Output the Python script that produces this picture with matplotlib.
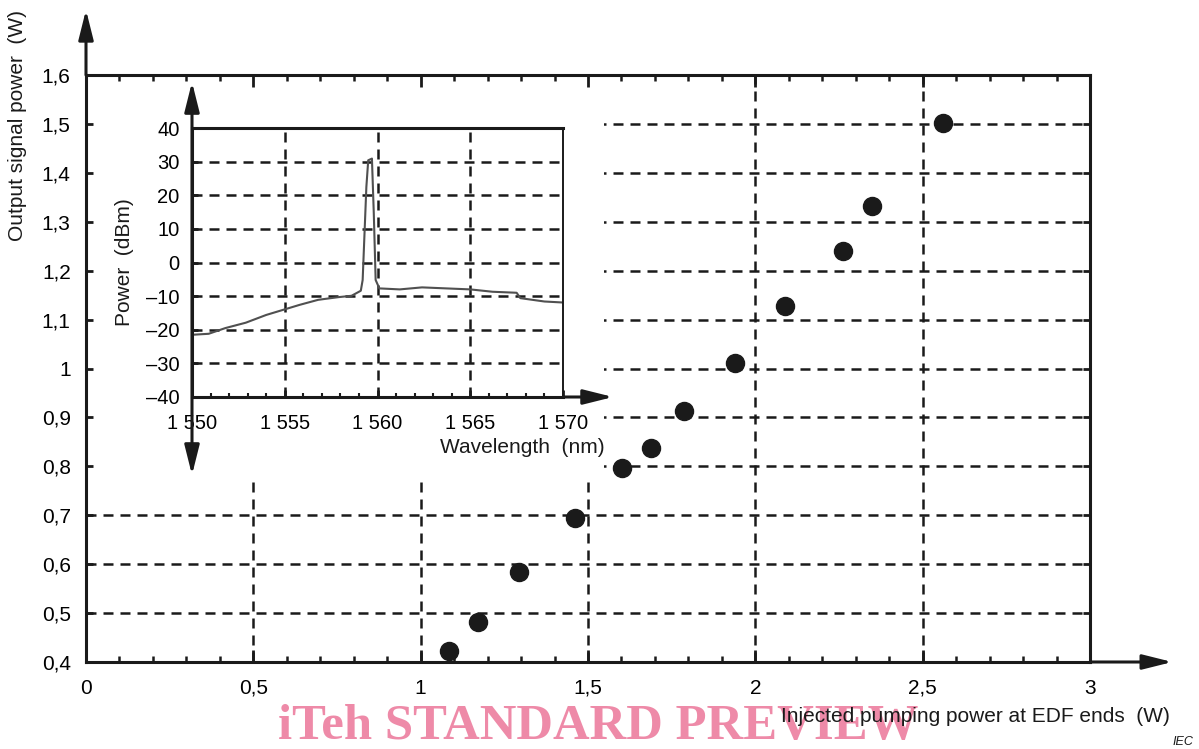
import matplotlib.pyplot as plt
from matplotlib.patches import Rectangle
from matplotlib.ticker import MultipleLocator

plt.rcParams['font.family'] = ['Liberation Sans', 'DejaVu Sans']

# main chart: output signal vs injected pump power
pump_w = [1.085, 1.171, 1.294, 1.461, 1.601, 1.688, 1.787, 1.939, 2.088, 2.262, 2.348, 2.561]
signal_w = [0.423, 0.482, 0.584, 0.694, 0.797, 0.837, 0.913, 1.011, 1.128, 1.240, 1.332, 1.502]

x_ticks = [0, 0.5, 1, 1.5, 2, 2.5, 3]
y_ticks = [0.4, 0.5, 0.6, 0.7, 0.8, 0.9, 1.0, 1.1, 1.2, 1.3, 1.4, 1.5, 1.6]
x_grid = [0.5, 1, 1.5, 2, 2.5]
y_grid = [0.5, 0.6, 0.7, 0.8, 0.9, 1.0, 1.1, 1.2, 1.3, 1.4, 1.5]

# inset: output spectrum
wl_nm = [1550.0, 1550.9, 1551.8, 1552.9, 1554.0, 1554.9, 1555.8, 1556.8, 1557.9, 1558.6,
         1559.1, 1559.2, 1559.4, 1559.5, 1559.7, 1559.8, 1559.9, 1560.1, 1561.2, 1562.4,
         1563.7, 1565.0, 1566.2, 1567.5, 1567.7, 1569.0, 1570.0]
power_dbm = [-21.5, -21.2, -19.5, -17.9, -15.6, -14.1, -12.6, -11.1, -10.3, -9.9,
             -8.4, -5.2, 22.5, 30.4, 30.9, 14.6, -5.2, -7.7, -8.0, -7.4,
             -7.7, -8.0, -8.7, -9.0, -10.6, -11.6, -11.9]
inset_x_ticks = [1550, 1555, 1560, 1565, 1570]
inset_y_ticks = [-40, -30, -20, -10, 0, 10, 20, 30, 40]
inset_x_grid = [1555, 1560, 1565]
inset_y_grid = [-30, -20, -10, 0, 10, 20, 30]

k = '#1a1a1a'
dash = (0, (4, 2.8))

fig = plt.figure(figsize=(11.99, 7.49), dpi=100)
ax = fig.add_axes([86/1199, 1-662/749, 1004/1199, 587/749])
ax.set_xlim(0, 3)
ax.set_ylim(0.4, 1.6)

for g in y_grid:
    ax.axhline(g, color=k, lw=1.8, ls=dash, zorder=2)
for g in x_grid:
    ax.axvline(g, color=k, lw=1.8, ls=dash, zorder=2)
# blank area behind the inset
ax.add_patch(Rectangle((0, 0.776), 1.547, 0.824, facecolor='white', edgecolor='none', zorder=2.1))

ax.plot(pump_w, signal_w, 'o', ms=13, color=k, zorder=3)

ax.set_axisbelow(False)
for s in ax.spines.values():
    s.set_linewidth(2.2)
    s.set_color(k)
ax.set_xticks(x_ticks)
ax.set_xticklabels([('%g' % v).replace('.', ',') for v in x_ticks])
ax.set_yticks(y_ticks)
ax.set_yticklabels([('%g' % v).replace('.', ',') for v in y_ticks])
ax.xaxis.set_minor_locator(MultipleLocator(0.1))
ax.tick_params(axis='x', which='major', direction='in', length=8.5, width=2, top=True,
               labelsize=15, pad=12, color=k)
ax.tick_params(axis='x', which='minor', direction='in', length=4.5, width=1.8, top=True, color=k)
ax.tick_params(axis='y', which='major', direction='in', length=5, width=2, right=True,
               labelsize=15, pad=11, color=k)

arrow = dict(arrowstyle='-|>,head_length=0.6,head_width=0.15', lw=2.2, color=k,
             mutation_scale=30, shrinkA=0, shrinkB=0)
ax.annotate('', xy=(0, 1.111), xytext=(0, 1.0), xycoords='axes fraction',
            arrowprops=arrow, annotation_clip=False)
ax.annotate('', xy=(1.082, 0), xytext=(1.0, 0), xycoords='axes fraction',
            arrowprops=arrow, annotation_clip=False)

fig.text(0.015, 1-10/749, 'Output signal power  (W)', rotation=90, ha='center', va='top',
         fontsize=15, color=k)

# inset
ai = fig.add_axes([192/1199, 1-397/749, 371/1199, 269/749])
ai.set_xlim(1550, 1570)
ai.set_ylim(-40, 40)
for g in inset_y_grid:
    ai.axhline(g, color=k, lw=1.8, ls=dash, zorder=1)
for g in inset_x_grid:
    ai.axvline(g, color=k, lw=1.8, ls=dash, zorder=1)
ai.plot(wl_nm, power_dbm, color='#505050', lw=1.5, zorder=2)
for s in ai.spines.values():
    s.set_linewidth(2.2)
    s.set_color(k)
ai.spines['right'].set_linewidth(1.4)
ai.set_xticks(inset_x_ticks)
ai.set_xticklabels(['%d %03d' % (v // 1000, v % 1000) for v in inset_x_ticks])
ai.set_yticks(inset_y_ticks)
ai.set_yticklabels([('%d' % v).replace('-', '\u2013') for v in inset_y_ticks])
ai.xaxis.set_minor_locator(MultipleLocator(1))
ai.tick_params(axis='x', which='major', direction='in', length=5, width=2, labelsize=14.5,
               pad=12, color=k)
ai.tick_params(axis='x', which='minor', direction='in', length=3, width=1.5, color=k)
ai.tick_params(axis='y', which='major', direction='in', length=4, width=2, labelsize=14.5,
               pad=9, color=k)

arrow2 = dict(arrowstyle='<|-|>,head_length=0.6,head_width=0.15', lw=2.2, color=k,
              mutation_scale=30, shrinkA=0, shrinkB=0)
ai.annotate('', xy=(0, 1.171), xytext=(0, -0.29), xycoords='axes fraction',
            arrowprops=arrow2, annotation_clip=False)
ai.annotate('', xy=(1.135, 0), xytext=(1.0, 0), xycoords='axes fraction',
            arrowprops=arrow, annotation_clip=False)

fig.text(125/1199, 1-262/749, 'Power  (dBm)', rotation=90, ha='center', va='center',
         fontsize=15, color=k)
fig.text(605/1199, 1-447/749, 'Wavelength  (nm)', ha='right', va='center',
         fontsize=15, color=k)

# watermark sits under the x label
fig.text(598/1199, 1-727/749, 'iTeh STANDARD PREVIEW', ha='center', va='center',
         fontsize=36.5, fontweight='bold', family='Liberation Serif', color='#ee8aa8',
         zorder=1)
fig.text(1170/1199, 1-716/749, 'Injected pumping power at EDF ends  (W)', ha='right',
         va='center', fontsize=15, color=k, zorder=5)
fig.text(1193/1199, 1-742/749, 'IEC', ha='right', va='center', fontsize=9,
         style='italic', color=k)

fig.savefig('out.png', dpi=100)
